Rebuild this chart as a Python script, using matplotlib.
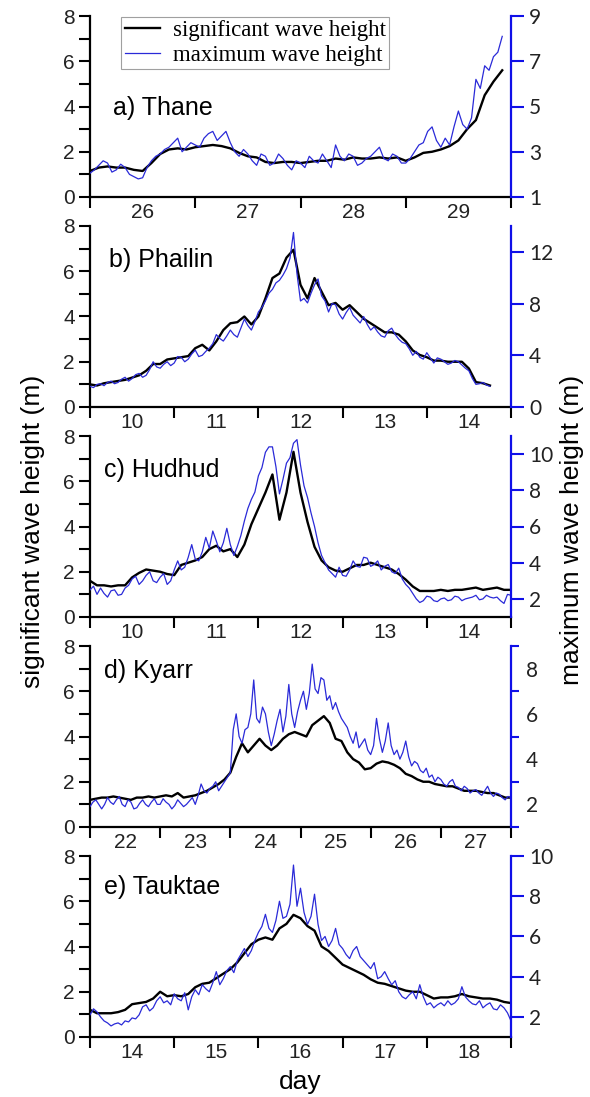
import numpy as np
import matplotlib.pyplot as plt
from matplotlib.ticker import FixedLocator, NullFormatter

plt.rcParams['font.family'] = ['Liberation Sans', 'DejaVu Sans']

# significant wave height (hs): 2-hourly; maximum wave height (hmax): hourly
hs_thane = [1.15, 1.3, 1.35, 1.3, 1.3, 1.2, 1.15, 1.5, 1.9, 2.1, 2.15, 2.1,
            2.2, 2.25, 2.3, 2.25, 2.15, 1.95, 1.8, 1.75, 1.55, 1.5, 1.55, 1.55,
            1.5, 1.55, 1.6, 1.6, 1.7, 1.65, 1.75, 1.7, 1.7, 1.75, 1.7, 1.75,
            1.6, 1.75, 1.95, 2.0, 2.1, 2.25, 2.5, 3.0, 3.4, 4.5, 5.1, 5.6]
hmax_thane = [2.05, 2.2, 2.4, 2.6, 2.5, 2.1, 2.2, 2.45, 2.3, 2.0,
              1.9, 1.8, 1.85, 2.3, 2.6, 2.8, 2.9, 3.1, 3.2, 3.4,
              3.6, 3.0, 3.2, 3.4, 3.3, 3.2, 3.6, 3.8, 3.9, 3.5,
              3.7, 3.9, 3.4, 3.0, 2.8, 3.1, 2.9, 2.6, 2.4, 2.9,
              2.8, 2.4, 2.5, 2.9, 2.7, 2.4, 2.2, 2.6, 2.5, 2.3,
              2.8, 2.6, 2.5, 2.9, 2.6, 2.3, 3.3, 2.8, 2.6, 2.9,
              2.8, 2.4, 2.5, 2.7, 2.8, 3.0, 3.2, 2.7, 2.6, 2.9,
              2.8, 2.5, 2.5, 2.7, 3.0, 3.3, 3.4, 3.9, 4.1, 3.5,
              3.2, 3.6, 3.3, 4.1, 4.8, 4.2, 4.0, 4.5, 6.2, 5.8,
              6.8, 6.6, 7.2, 7.4, 8.1]

hs_phailin = [1.0, 0.95, 1.05, 1.1, 1.15, 1.2, 1.3, 1.4, 1.6, 1.9, 1.9, 2.1,
              2.15, 2.2, 2.25, 2.6, 2.75, 2.5, 2.9, 3.4, 3.7, 3.75, 4.0, 3.65,
              4.0, 4.8, 5.7, 5.9, 6.6, 6.95, 5.4, 4.8, 5.7, 5.1, 4.5, 4.6,
              4.3, 4.5, 4.2, 3.9, 3.7, 3.5, 3.3, 3.3, 3.2, 2.9, 2.5, 2.3,
              2.2, 2.05, 2.05, 2.0, 2.0, 2.0, 1.7, 1.1, 1.05, 0.95]
hmax_phailin = [1.6, 1.5, 1.75, 1.8, 1.65, 1.9, 2.0, 1.8, 1.9, 2.15,
                2.3, 2.0, 2.2, 2.5, 2.6, 2.3, 2.45, 2.9, 3.5, 3.1,
                3.0, 3.3, 3.5, 3.2, 3.4, 3.9, 3.85, 3.5, 3.7, 4.1,
                4.4, 3.9, 4.0, 4.3, 4.55, 4.9, 5.6, 5.3, 5.1, 5.5,
                5.95, 5.6, 5.4, 6.1, 6.8, 6.3, 5.95, 6.6, 7.35, 7.7,
                8.2, 8.8, 9.1, 9.6, 9.8, 10.2, 10.7, 11.5, 13.5, 10.3,
                8.2, 8.4, 8.05, 8.8, 9.45, 9.9, 8.6, 8.2, 7.35, 8.0,
                7.9, 7.2, 6.8, 7.3, 7.7, 7.1, 6.8, 6.5, 7.0, 6.4,
                5.95, 6.2, 5.8, 5.5, 5.4, 5.9, 6.1, 5.6, 5.25, 5.0,
                4.9, 4.5, 4.0, 4.3, 3.85, 3.7, 4.2, 3.8, 3.4, 3.8,
                3.7, 3.5, 3.3, 3.4, 3.6, 3.5, 3.25, 3.0, 2.8, 2.2,
                1.75, 1.8, 1.9, 1.7, 1.6]

hs_hudhud = [1.6, 1.4, 1.4, 1.35, 1.4, 1.4, 1.75, 1.95, 2.1, 2.05, 2.0, 1.9,
             1.85, 2.3, 2.4, 2.5, 2.65, 3.0, 3.15, 2.9, 3.0, 2.65, 3.2, 4.1,
             4.8, 5.5, 6.3, 4.3, 5.5, 7.3, 5.5, 4.2, 3.1, 2.5, 2.2, 2.05,
             2.0, 2.15, 2.3, 2.3, 2.4, 2.3, 2.2, 2.1, 1.9, 1.65, 1.35, 1.15,
             1.15, 1.15, 1.2, 1.15, 1.2, 1.2, 1.25, 1.3, 1.2, 1.25, 1.3, 1.2, 1.2]
hmax_hudhud = [2.5, 2.7, 2.25, 2.6, 2.3, 2.1, 2.45, 2.5, 2.2, 2.25,
               2.6, 2.75, 3.1, 3.25, 2.8, 3.0, 3.3, 3.5, 3.0, 2.9,
               3.2, 3.4, 2.8, 3.0, 3.6, 4.1, 3.6, 3.75, 4.3, 5.0,
               4.2, 4.1, 4.6, 5.4, 4.8, 5.75, 5.2, 4.6, 5.1, 5.9,
               5.0, 4.4, 4.9, 5.5, 6.3, 7.0, 7.5, 7.9, 8.8, 9.25,
               10.1, 10.4, 10.4, 9.3, 7.8, 8.6, 9.5, 9.8, 10.6, 10.8,
               9.4, 8.25, 7.6, 6.75, 6.0, 5.1, 4.4, 4.0, 3.6, 3.4,
               3.2, 3.75, 3.3, 3.25, 3.6, 4.1, 3.8, 3.75, 4.3, 4.25,
               3.8, 3.9, 4.1, 3.6, 3.8, 3.9, 3.5, 3.4, 3.7, 3.1,
               2.8, 2.6, 2.3, 2.0, 1.8, 1.9, 2.15, 2.1, 1.9, 1.85,
               2.0, 2.05, 1.9, 1.95, 2.15, 2.1, 1.9, 2.0, 2.05, 2.1,
               2.2, 1.95, 2.0, 2.2, 2.1, 2.05, 2.1, 1.9, 1.75, 2.25, 2.2]

hs_kyarr = [1.2, 1.25, 1.3, 1.3, 1.35, 1.3, 1.25, 1.2, 1.3, 1.3, 1.35, 1.3, 1.35,
            1.4, 1.35, 1.5, 1.3, 1.35, 1.4, 1.5, 1.6, 1.75, 1.9, 2.1, 2.4,
            3.1, 3.7, 3.3, 3.6, 3.9, 3.6, 3.4, 3.6, 3.9, 4.1, 4.2, 4.1,
            4.0, 4.5, 4.7, 4.9, 4.6, 3.9, 3.8, 3.3, 3.0, 2.85, 2.55, 2.6,
            2.8, 2.9, 2.85, 2.75, 2.6, 2.35, 2.25, 2.1, 2.0, 2.0, 1.9, 1.85,
            1.8, 1.8, 1.7, 1.6, 1.6, 1.6, 1.55, 1.5, 1.5, 1.4, 1.3, 1.3]
hmax_kyarr = [1.9, 2.1, 2.2, 2.0, 1.8, 2.0, 2.3, 2.1, 2.0, 2.2,
              2.35, 2.0, 1.9, 2.2, 2.1, 1.8, 1.85, 2.05, 2.2, 2.0,
              1.9, 2.1, 2.25, 2.0, 2.0, 2.25, 2.1, 2.0, 1.8, 1.95,
              2.2, 2.05, 1.9, 2.0, 2.15, 2.3, 2.0, 2.4, 2.9, 2.6,
              2.5, 2.7, 2.8, 3.0, 2.6, 2.8, 3.0, 3.2, 3.4, 5.3,
              6.0, 5.0, 4.7, 5.3, 5.4, 6.0, 7.5, 5.8, 5.6, 6.3,
              6.0, 5.2, 4.6, 5.1, 5.7, 6.2, 5.2, 5.9, 7.3, 6.0,
              5.4, 6.1, 6.6, 7.0, 6.2, 6.9, 8.2, 7.1, 6.9, 7.6,
              7.5, 6.6, 6.8, 6.2, 6.5, 6.1, 5.8, 5.6, 5.4, 5.0,
              4.7, 5.2, 4.5, 4.7, 4.9, 4.4, 4.2, 4.6, 5.8, 4.9,
              4.3, 4.8, 5.6, 4.6, 4.2, 4.4, 4.0, 4.3, 4.8, 4.1,
              3.7, 3.9, 3.8, 3.5, 3.4, 3.6, 3.2, 3.3, 3.0, 3.2,
              3.1, 2.9, 2.8, 3.0, 3.1, 2.8, 2.75, 2.6, 2.8, 2.7,
              2.5, 2.6, 2.65, 2.5, 2.4, 2.6, 2.8, 2.5, 2.35, 2.5,
              2.45, 2.3, 2.2, 2.35, 2.3]

hs_tauktae = [1.2, 1.05, 1.05, 1.05, 1.1, 1.2, 1.45, 1.5, 1.55, 1.7, 2.0, 1.8,
              1.85, 1.8, 1.9, 2.2, 2.35, 2.4, 2.6, 2.8, 3.0, 3.3, 3.7, 4.1,
              4.3, 4.4, 4.3, 4.8, 5.0, 5.4, 5.25, 4.9, 4.7, 4.0, 3.8, 3.5,
              3.2, 3.05, 2.9, 2.75, 2.55, 2.4, 2.35, 2.25, 2.15, 2.05, 2.0, 2.0,
              1.85, 1.7, 1.75, 1.75, 1.8, 1.9, 1.8, 1.75, 1.7, 1.7, 1.65, 1.55, 1.5]
hmax_tauktae = [2.1, 2.4, 2.25, 2.0, 1.8, 1.7, 1.55, 1.65, 1.7, 1.6,
                1.8, 1.75, 1.95, 1.9, 2.1, 2.5, 2.6, 2.3, 2.45, 2.8,
                3.0, 2.7, 2.8, 2.6, 3.15, 2.9, 2.8, 3.2, 2.35, 3.0,
                3.35, 3.1, 3.6, 3.4, 3.25, 3.7, 4.25, 3.6, 3.9, 4.3,
                4.5, 4.2, 4.8, 5.1, 5.4, 5.0, 5.3, 5.8, 6.2, 6.5,
                7.1, 6.4, 6.2, 6.8, 7.75, 6.9, 7.0, 7.6, 9.55, 7.5,
                8.4, 7.2, 6.6, 7.0, 8.1, 6.6, 5.8, 6.0, 5.5, 5.8,
                6.4, 5.6, 5.4, 5.1, 4.9, 5.3, 5.5, 5.0, 4.8, 4.6,
                4.4, 4.7, 3.9, 4.0, 4.25, 3.9, 3.6, 3.8, 3.25, 3.0,
                2.9, 3.1, 3.25, 2.9, 3.6, 3.0, 2.6, 2.7, 2.45, 2.6,
                2.7, 2.55, 2.8, 2.6, 2.7, 2.9, 3.5, 3.0, 2.8, 2.65,
                2.6, 2.8, 2.45, 2.6, 2.7, 2.4, 2.35, 2.6, 2.45, 2.2, 1.8]

names = ['a) Thane', 'b) Phailin', 'c) Hudhud', 'd) Kyarr', 'e) Tauktae']
first_days = [26, 10, 10, 22, 14]
last_days = [30, 15, 15, 28, 19]
right_lims = [(1, 9), (0, 14), (1, 11), (1, 9), (1, 10)]
right_ticks = [[1, 3, 5, 7, 9], [0, 4, 8, 12], [2, 4, 6, 8, 10], [1, 3, 5, 7, 9], [2, 4, 6, 8, 10]]
right_labels = [['1', '3', '5', '7', '9'], ['0', '4', '8', '12'], ['2', '4', '6', '8', '10'],
                None, ['2', '4', '6', '8', '10']]
kyarr_label_ticks = [2, 4, 6, 8]
hs_all = [hs_thane, hs_phailin, hs_hudhud, hs_kyarr, hs_tauktae]
hmax_all = [hmax_thane, hmax_phailin, hmax_hudhud, hmax_kyarr, hmax_tauktae]
name_pos = [(0.055, 0.49), (0.045, 0.81), (0.033, 0.81), (0.033, 0.86), (0.033, 0.83)]

blue_line = '#2a2ad8'
blue_axis = '#1010e8'
FW, FH = 590, 1097

fig = plt.figure(figsize=(FW / 100, FH / 100), dpi=100)
left, right = 90, 511
tops = [16, 226, 436, 646, 856]
height = 181

for k in range(5):
    ax = fig.add_axes([left / FW, 1 - (tops[k] + height) / FH,
                       (right - left) / FW, height / FH])
    t_hs = first_days[k] + np.arange(len(hs_all[k])) / 12.0
    t_hmax = first_days[k] + np.arange(len(hmax_all[k])) / 24.0
    l1, = ax.plot(t_hs, hs_all[k], color='black', lw=1.7, label='significant wave height')
    ax2 = ax.twinx()
    l2, = ax2.plot(t_hmax, hmax_all[k], color=blue_line, lw=0.9, label='maximum wave height')

    ax.set_xlim(first_days[k], last_days[k])
    ax.set_ylim(0, 8)
    ax2.set_ylim(*right_lims[k])

    for s in ['top', 'right']:
        ax.spines[s].set_visible(False)
    for s in ['top', 'left', 'bottom']:
        ax2.spines[s].set_visible(False)
    ax.spines['left'].set_linewidth(1.6)
    ax.spines['bottom'].set_linewidth(1.6)
    ax2.spines['right'].set_linewidth(1.6)
    ax2.spines['right'].set_color(blue_axis)

    # left axis
    ax.set_yticks([0, 2, 4, 6, 8])
    ax.yaxis.set_minor_locator(FixedLocator([1, 3, 5, 7]))
    ax.tick_params(axis='y', which='both', direction='out', length=8, width=1.5,
                   labelsize=15, pad=3, labelcolor='#222222')

    # x axis: ticks at day boundaries, labels at midday
    days = np.arange(first_days[k], last_days[k] + 1)
    ax.xaxis.set_major_locator(FixedLocator(days))
    ax.xaxis.set_major_formatter(NullFormatter())
    ax.xaxis.set_minor_locator(FixedLocator(days[:-1] + 0.5))
    ax.set_xticklabels([str(d) for d in days[:-1]], minor=True)
    ax.tick_params(axis='x', which='major', direction='out', length=8, width=1.5)
    ax.tick_params(axis='x', which='minor', length=0, labelsize=15, pad=4,
                   labelcolor='#222222')

    # right axis
    ax2.yaxis.set_major_locator(FixedLocator(right_ticks[k]))
    if right_labels[k] is None:
        ax2.yaxis.set_major_formatter(NullFormatter())
        ax2.yaxis.set_minor_locator(FixedLocator(kyarr_label_ticks))
        ax2.set_yticklabels([str(v) for v in kyarr_label_ticks], minor=True)
        ax2.tick_params(axis='y', which='minor', length=0, pad=11)
        ax2.tick_params(axis='y', which='major', direction='out', length=6,
                        width=1.5, color=blue_axis)
    else:
        ax2.set_yticklabels(right_labels[k])
        ax2.tick_params(axis='y', which='major', direction='out', length=9,
                        width=1.5, color=blue_axis, pad=4)
    for lab in ax2.get_yticklabels(which='both'):
        lab.set_fontfamily(['Lato', 'DejaVu Sans'])
        lab.set_fontsize(15)
        lab.set_color('#222222')

    ax.text(name_pos[k][0], name_pos[k][1], names[k], transform=ax.transAxes,
            fontsize=18, va='center', ha='left')

    if k == 0:
        leg = ax2.legend([l1, l2], [l1.get_label(), l2.get_label()],
                         loc='upper left', bbox_to_anchor=(0.074, 0.995),
                         borderaxespad=0, fancybox=False, framealpha=1,
                         edgecolor='#a0a0a0', borderpad=0.15, labelspacing=0.15,
                         handlelength=1.55, handletextpad=0.55,
                         prop={'family': 'Liberation Serif', 'size': 16.5})
        leg.get_frame().set_linewidth(0.8)

fig.text(33 / FW, 1 - 531 / FH, 'significant wave height (m)', rotation=90,
         ha='center', va='center', fontsize=19)
fig.text(572 / FW, 1 - 530 / FH, 'maximum wave height (m)', rotation=90,
         ha='center', va='center', fontsize=19)
fig.text((left + right) / 2 / FW, 1 - 1082 / FH, 'day', ha='center', va='center',
         fontsize=19)

fig.savefig('out.png', dpi=100)
